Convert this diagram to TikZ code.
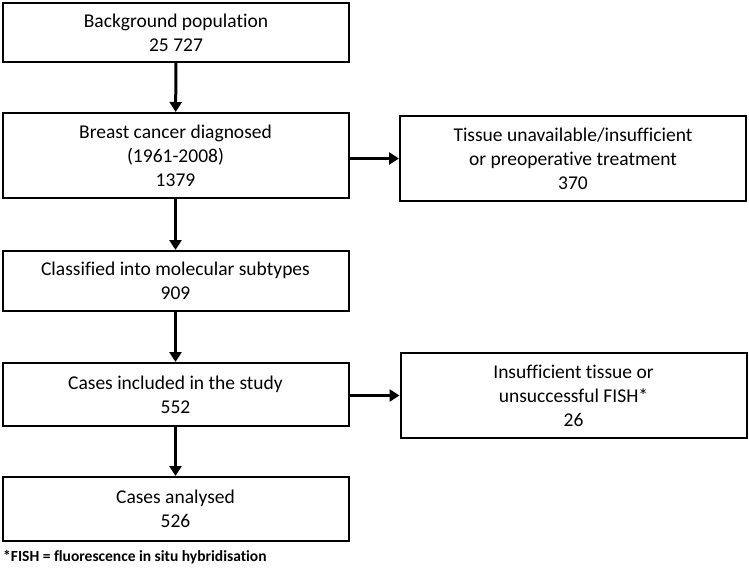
\documentclass[tikz,border=0pt]{standalone}
\usepackage{fontspec}
\setmainfont{Carlito}[Ligatures=NoCommon]
\usetikzlibrary{positioning}
\usetikzlibrary{arrows.meta}

\tikzset{
  box/.style={draw, line width=2pt, align=center, inner sep=0pt,
    minimum width=346pt, font=\fontsize{19.5}{24}\selectfont},
  arrow/.style={line width=3pt, -{Triangle[length=10pt,width=12pt]}}
}

\begin{document}
\begin{tikzpicture}[x=1pt,y=-1pt]
\useasboundingbox (0,0) rectangle (749,578);

% Main column
\node[box, minimum height=59pt] (bg) at (176,32.5) {Background population\\25 727};
\node[box, minimum height=85pt] (diag) at (175.5,155.5) {Breast cancer diagnosed\\(1961-2008)\\1379};
\node[box, minimum height=60pt] (subtype) at (175.5,281) {Classified into molecular subtypes\\909};
\node[box, minimum height=63pt] (incl) at (175.5,394.5) {Cases included in the study\\552};
\node[box, minimum height=64pt] (anal) at (175.5,509) {Cases analysed\\526};

% Exclusions
\node[box, minimum height=85pt] (excl1) at (573,158.5) {Tissue unavailable/insufficient\\or preoperative treatment\\370};
\node[box, minimum height=85pt] (excl2) at (573.5,395.5) {Insufficient tissue or\\unsuccessful FISH*\\26};

% Footnote
\node[anchor=base west, inner sep=0pt, font=\bfseries\fontsize{15.5}{18}\selectfont] (note) at (3,561) {*FISH = fluorescence in situ hybridisation};

% Arrows
\draw[arrow] (bg) -- (diag);
\draw[arrow] (diag) -- (subtype);
\draw[arrow] (subtype) -- (incl);
\draw[arrow] (incl) -- (anal);
\draw[arrow] (excl1.west -| diag.east) -- (excl1.west);
\draw[arrow] (excl2.west -| incl.east) -- (excl2.west);

\end{tikzpicture}
\end{document}
